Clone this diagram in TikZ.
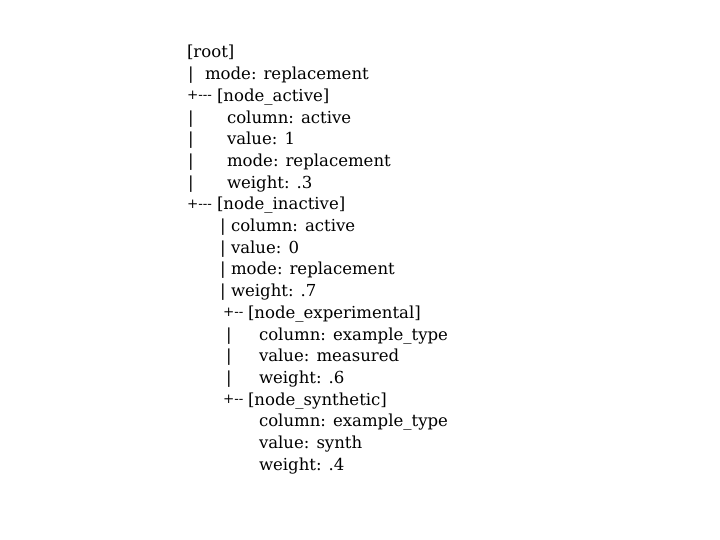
\documentclass[tikz,border=0pt]{standalone}
\usepackage{fontspec}
\setmainfont{DejaVu Serif}
\begin{document}
\begin{tikzpicture}[x=1bp,y=-1bp,
  txt/.style={anchor=base west,inner sep=0pt,outer sep=0pt,font=\fontsize{16.6}{19}\selectfont},
  branch/.style={txt},
  joint/.style={txt,font=\fontsize{13.5}{16}\selectfont,yshift=1.5bp}]
\useasboundingbox (0,0) rectangle (720,540);
% line pitch and first baseline
\def\pitch{21.7}
\def\base{58}
\newcommand{\row}[1]{\base+#1*\pitch}
% root
\node[txt] (root) at (187,{\row{0}}) {[root]};
\node[branch] (p1) at (188,{\row{1}}) {|};
\node[txt] (rootmode) at (205,{\row{1}}) {mode: replacement};
% node_active
\node[joint] (b1) at (187,{\row{2}}) {+-{}-{}-};
\node[txt] (active) at (217,{\row{2}}) {[node\_active]};
\foreach \i/\t in {3/{column: active},4/{value: 1},5/{mode: replacement},6/{weight: .3}}{
  \node[branch] (pa\i) at (188,{\row{\i}}) {|};
  \node[txt] (ta\i) at (227,{\row{\i}}) {\t};
}
% node_inactive
\node[joint] (b2) at (187,{\row{7}}) {+-{}-{}-};
\node[txt] (inactive) at (217,{\row{7}}) {[node\_inactive]};
\foreach \i/\t in {8/{column: active},9/{value: 0},10/{mode: replacement},11/{weight: .7}}{
  \node[branch] (pi\i) at (220,{\row{\i}}) {|};
  \node[txt] (ti\i) at (231,{\row{\i}}) {\t};
}
% node_experimental
\node[joint] (b3) at (223,{\row{12}}) {+-{}-};
\node[txt] (experimental) at (248,{\row{12}}) {[node\_experimental]};
\foreach \i/\t in {13/{column: example\_type},14/{value: measured},15/{weight: .6}}{
  \node[branch] (pe\i) at (226,{\row{\i}}) {|};
  \node[txt] (te\i) at (259,{\row{\i}}) {\t};
}
% node_synthetic
\node[joint] (b4) at (223,{\row{16}}) {+-{}-};
\node[txt] (synthetic) at (248,{\row{16}}) {[node\_synthetic]};
\foreach \i/\t in {17/{column: example\_type},18/{value: synth},19/{weight: .4}}{
  \node[txt] (ts\i) at (259,{\row{\i}}) {\t};
}
\end{tikzpicture}
\end{document}
